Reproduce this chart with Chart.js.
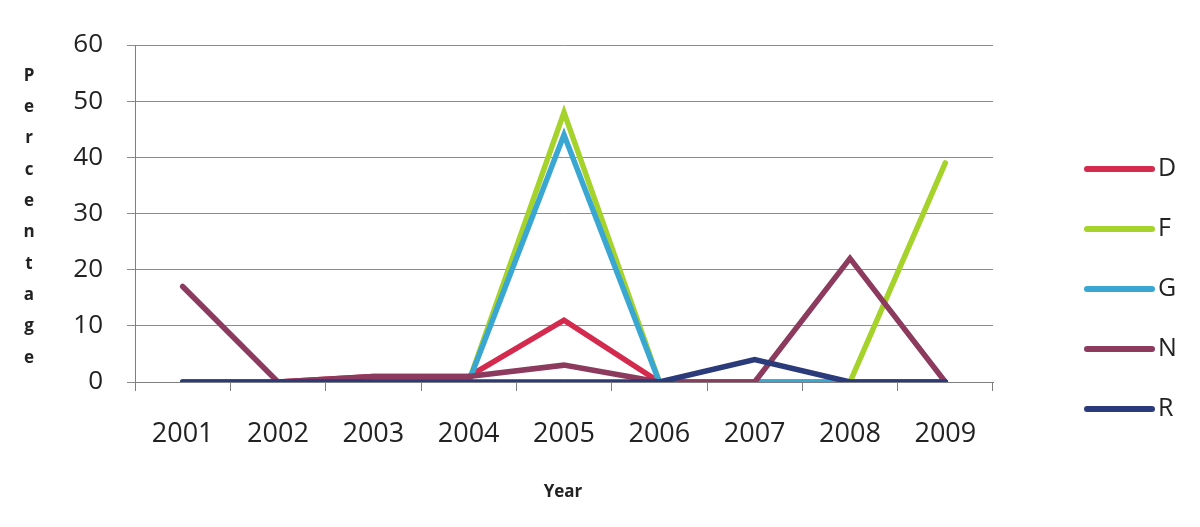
<!DOCTYPE html>
<html>
<head>
<meta charset="utf-8">
<script src="https://cdn.jsdelivr.net/npm/chart.js@4"></script>
<style>
  html, body { margin: 0; padding: 0; background: #fff; }
  #wrap { width: 1200px; height: 527px; position: relative; }
</style>
</head>
<body>
<div id="wrap"><canvas id="yearChart" width="1200" height="527"></canvas></div>
<script>
// Dữ liệu biểu đồ
const years = ['2001', '2002', '2003', '2004', '2005', '2006', '2007', '2008', '2009'];
const yTicks = [0, 10, 20, 30, 40, 50, 60];
const seriesD = [0, 0, 1, 1, 11, 0, 0, 0, 0];
const seriesF = [0, 0, 0, 0, 48, 0, 0, 0, 39];
const seriesG = [0, 0, 0, 0, 44, 0, 0, 0, 0];
const seriesN = [17, 0, 1, 1, 3, 0, 0, 22, 0];
const seriesR = [0, 0, 0, 0, 0, 0, 4, 0, 0];
const seriesNames = ['D', 'F', 'G', 'N', 'R'];
const yTitle = 'Percentage';
const xTitle = 'Year';

const colors = ['#d42a4e', '#a6d22c', '#3aa6d2', '#8c3a5e', '#2b3a7a'];
const allSeries = [seriesD, seriesF, seriesG, seriesN, seriesR];

// Vẽ chú thích và tiêu đề trục
const extrasPlugin = {
    id: 'extras',
    afterDraw(chart) {
        const c = chart.ctx;
        c.save();
        c.fillStyle = '#222';
        // tiêu đề trục y, từng chữ theo chiều dọc
        c.font = 'bold 17px "Open Sans"';
        c.textAlign = 'center';
        c.textBaseline = 'middle';
        yTitle.split('').forEach((ch, i) => {
            c.fillText(ch, 29, 76 + i * 31.3);
        });
        // tiêu đề trục x
        c.fillText(xTitle, 563, 492);
        // chú thích
        c.font = '25px "Open Sans"';
        c.textAlign = 'left';
        chart.data.datasets.forEach((ds, i) => {
            const y = 169 + i * 60;
            c.strokeStyle = ds.borderColor;
            c.lineWidth = 6;
            c.lineCap = 'round';
            c.beginPath();
            c.moveTo(1087, y);
            c.lineTo(1152, y);
            c.stroke();
            c.fillText(ds.label, 1158, y);
        });
        c.restore();
    }
};

document.addEventListener('DOMContentLoaded', function() {
    const ctx = document.getElementById('yearChart');
    new Chart(ctx, {
        type: 'line',
        data: {
            labels: years,
            datasets: allSeries.map((s, i) => ({
                label: seriesNames[i],
                data: s,
                borderColor: colors[i],
                backgroundColor: colors[i],
                borderWidth: 5.5,
                pointRadius: 0,
                tension: 0,
                borderCapStyle: 'round',
                borderJoinStyle: 'miter',
                order: allSeries.length - i
            }))
        },
        options: {
            responsive: false,
            animation: false,
            layout: { padding: { top: 45, right: 207, left: 0, bottom: 0 } },
            plugins: {
                legend: { display: false },
                tooltip: { enabled: false }
            },
            scales: {
                x: {
                    offset: true,
                    afterFit(scale) { scale.height = 145; },
                    grid: { drawOnChartArea: false, offset: true, tickLength: 9, color: '#7e7e7e' },
                    border: { color: '#7e7e7e', width: 1 },
                    ticks: { color: '#222', font: { family: 'Open Sans', size: 27 }, padding: 27 }
                },
                y: {
                    min: 0,
                    max: 60,
                    afterFit(scale) { scale.width = 135; },
                    afterBuildTicks(scale) { scale.ticks = yTicks.map(v => ({ value: v })); },
                    grid: { color: '#8c8c8c', tickLength: 8, lineWidth: 1 },
                    border: { color: '#7e7e7e', width: 1 },
                    ticks: { color: '#222', font: { family: 'Open Sans', size: 26 }, padding: 24 }
                }
            }
        },
        plugins: [extrasPlugin]
    });
});
</script>
</body>
</html>
